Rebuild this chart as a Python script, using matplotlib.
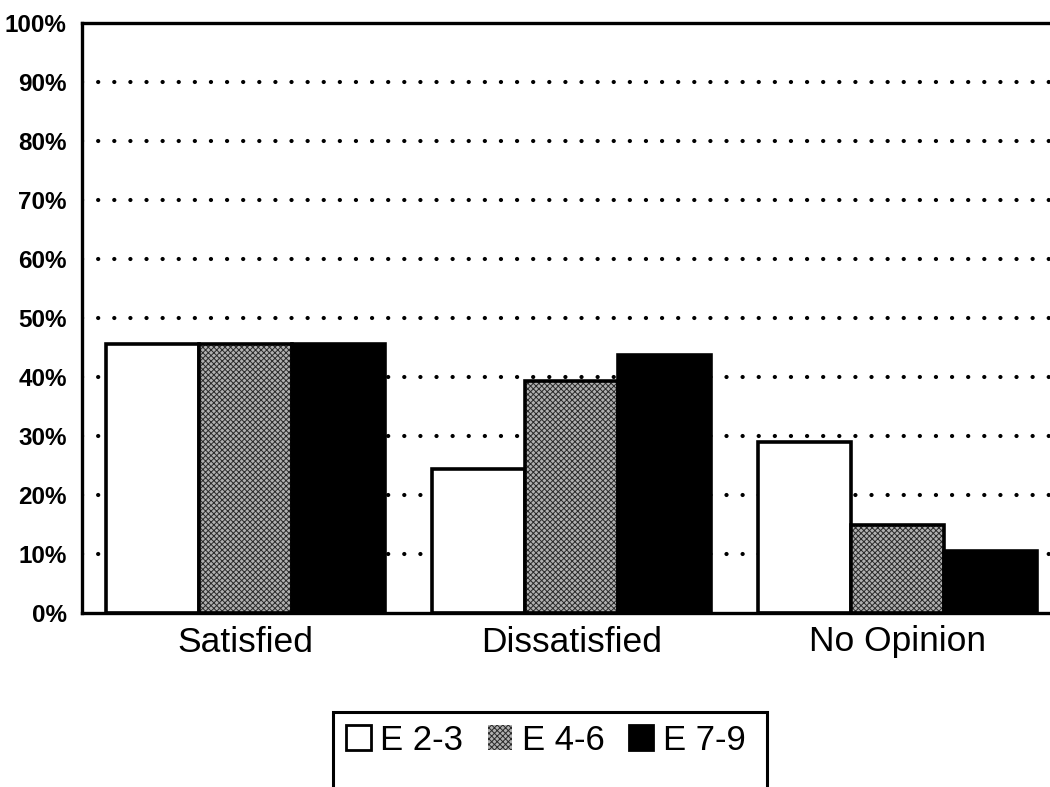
import numpy as np
import matplotlib.pyplot as plt
from matplotlib.patches import Patch, Rectangle

plt.rcParams['font.family'] = ['Liberation Sans', 'DejaVu Sans']
plt.rcParams['lines.scale_dashes'] = False
plt.rcParams['hatch.linewidth'] = 0.7

# DATA (percent)
categories = ["Satisfied", "Dissatisfied", "No Opinion"]
groups = ["E 2-3", "E 4-6", "E 7-9"]
e23 = [45.6, 24.4, 29.0]
e46 = [45.6, 39.4, 14.9]
e79 = [45.6, 43.7, 10.5]
yticks = [0, 10, 20, 30, 40, 50, 60, 70, 80, 90, 100]
ytick_labels = ["0%", "10%", "20%", "30%", "40%", "50%", "60%", "70%", "80%", "90%", "100%"]

fig = plt.figure(figsize=(10.5, 7.87), dpi=100)
ax = fig.add_axes([82/1050, 174/787, (1061-82)/1050, (764-174)/787])

x = np.arange(len(categories))
w = 0.285

# dotted gridlines behind bars
for yv in yticks[1:-1]:
    ax.axhline(yv, color='black', lw=3.0, linestyle=(0, (0.1, 11.5)),
               dash_capstyle='round', zorder=0.5)

# E 2-3 : white
ax.bar(x - w, e23, w, color='white', edgecolor='black', lw=2.6, zorder=2)
# E 4-6 : stippled grey (hatch layer + outline layer)
ax.bar(x, e46, w, color='#b0b0b0', edgecolor='#2a2a2a', hatch='xxxxxx', lw=0, zorder=2)
ax.bar(x, e46, w, fill=False, edgecolor='black', lw=2.6, zorder=3)
# E 7-9 : black
ax.bar(x + w, e79, w, color='black', edgecolor='black', lw=2.6, zorder=2)

ax.set_xlim(-0.5, 2.5)
ax.set_ylim(0, 100)
ax.set_yticks(yticks)
ax.set_yticklabels(ytick_labels, fontsize=17.5, fontweight='bold')
ax.set_xticks(x)
ax.set_xticklabels(categories, fontsize=25.5)
ax.tick_params(axis='y', length=0, pad=11)
ax.tick_params(axis='x', length=0, pad=9)
for s in ax.spines.values():
    s.set_linewidth(2.4)

handles = [Patch(facecolor='white', edgecolor='black', lw=2),
           Patch(facecolor='#b0b0b0', edgecolor='#2a2a2a', hatch='xxxxxx', lw=0),
           Patch(facecolor='black', edgecolor='black', lw=2)]
leg = fig.legend(handles, groups, loc='center', bbox_to_anchor=(546/1050, 47/787),
                 ncol=3, fontsize=25, frameon=False,
                 handlelength=0.7, handleheight=0.7, handletextpad=0.28,
                 columnspacing=0.7, borderpad=0, borderaxespad=0)

# legend frame running off the bottom of the page
fig.patches.append(Rectangle((333/1050, -0.05), (767-333)/1050, 0.05 + 75/787,
                             transform=fig.transFigure, fill=False,
                             edgecolor='black', lw=2.2))

fig.savefig('out.png', dpi=100)
